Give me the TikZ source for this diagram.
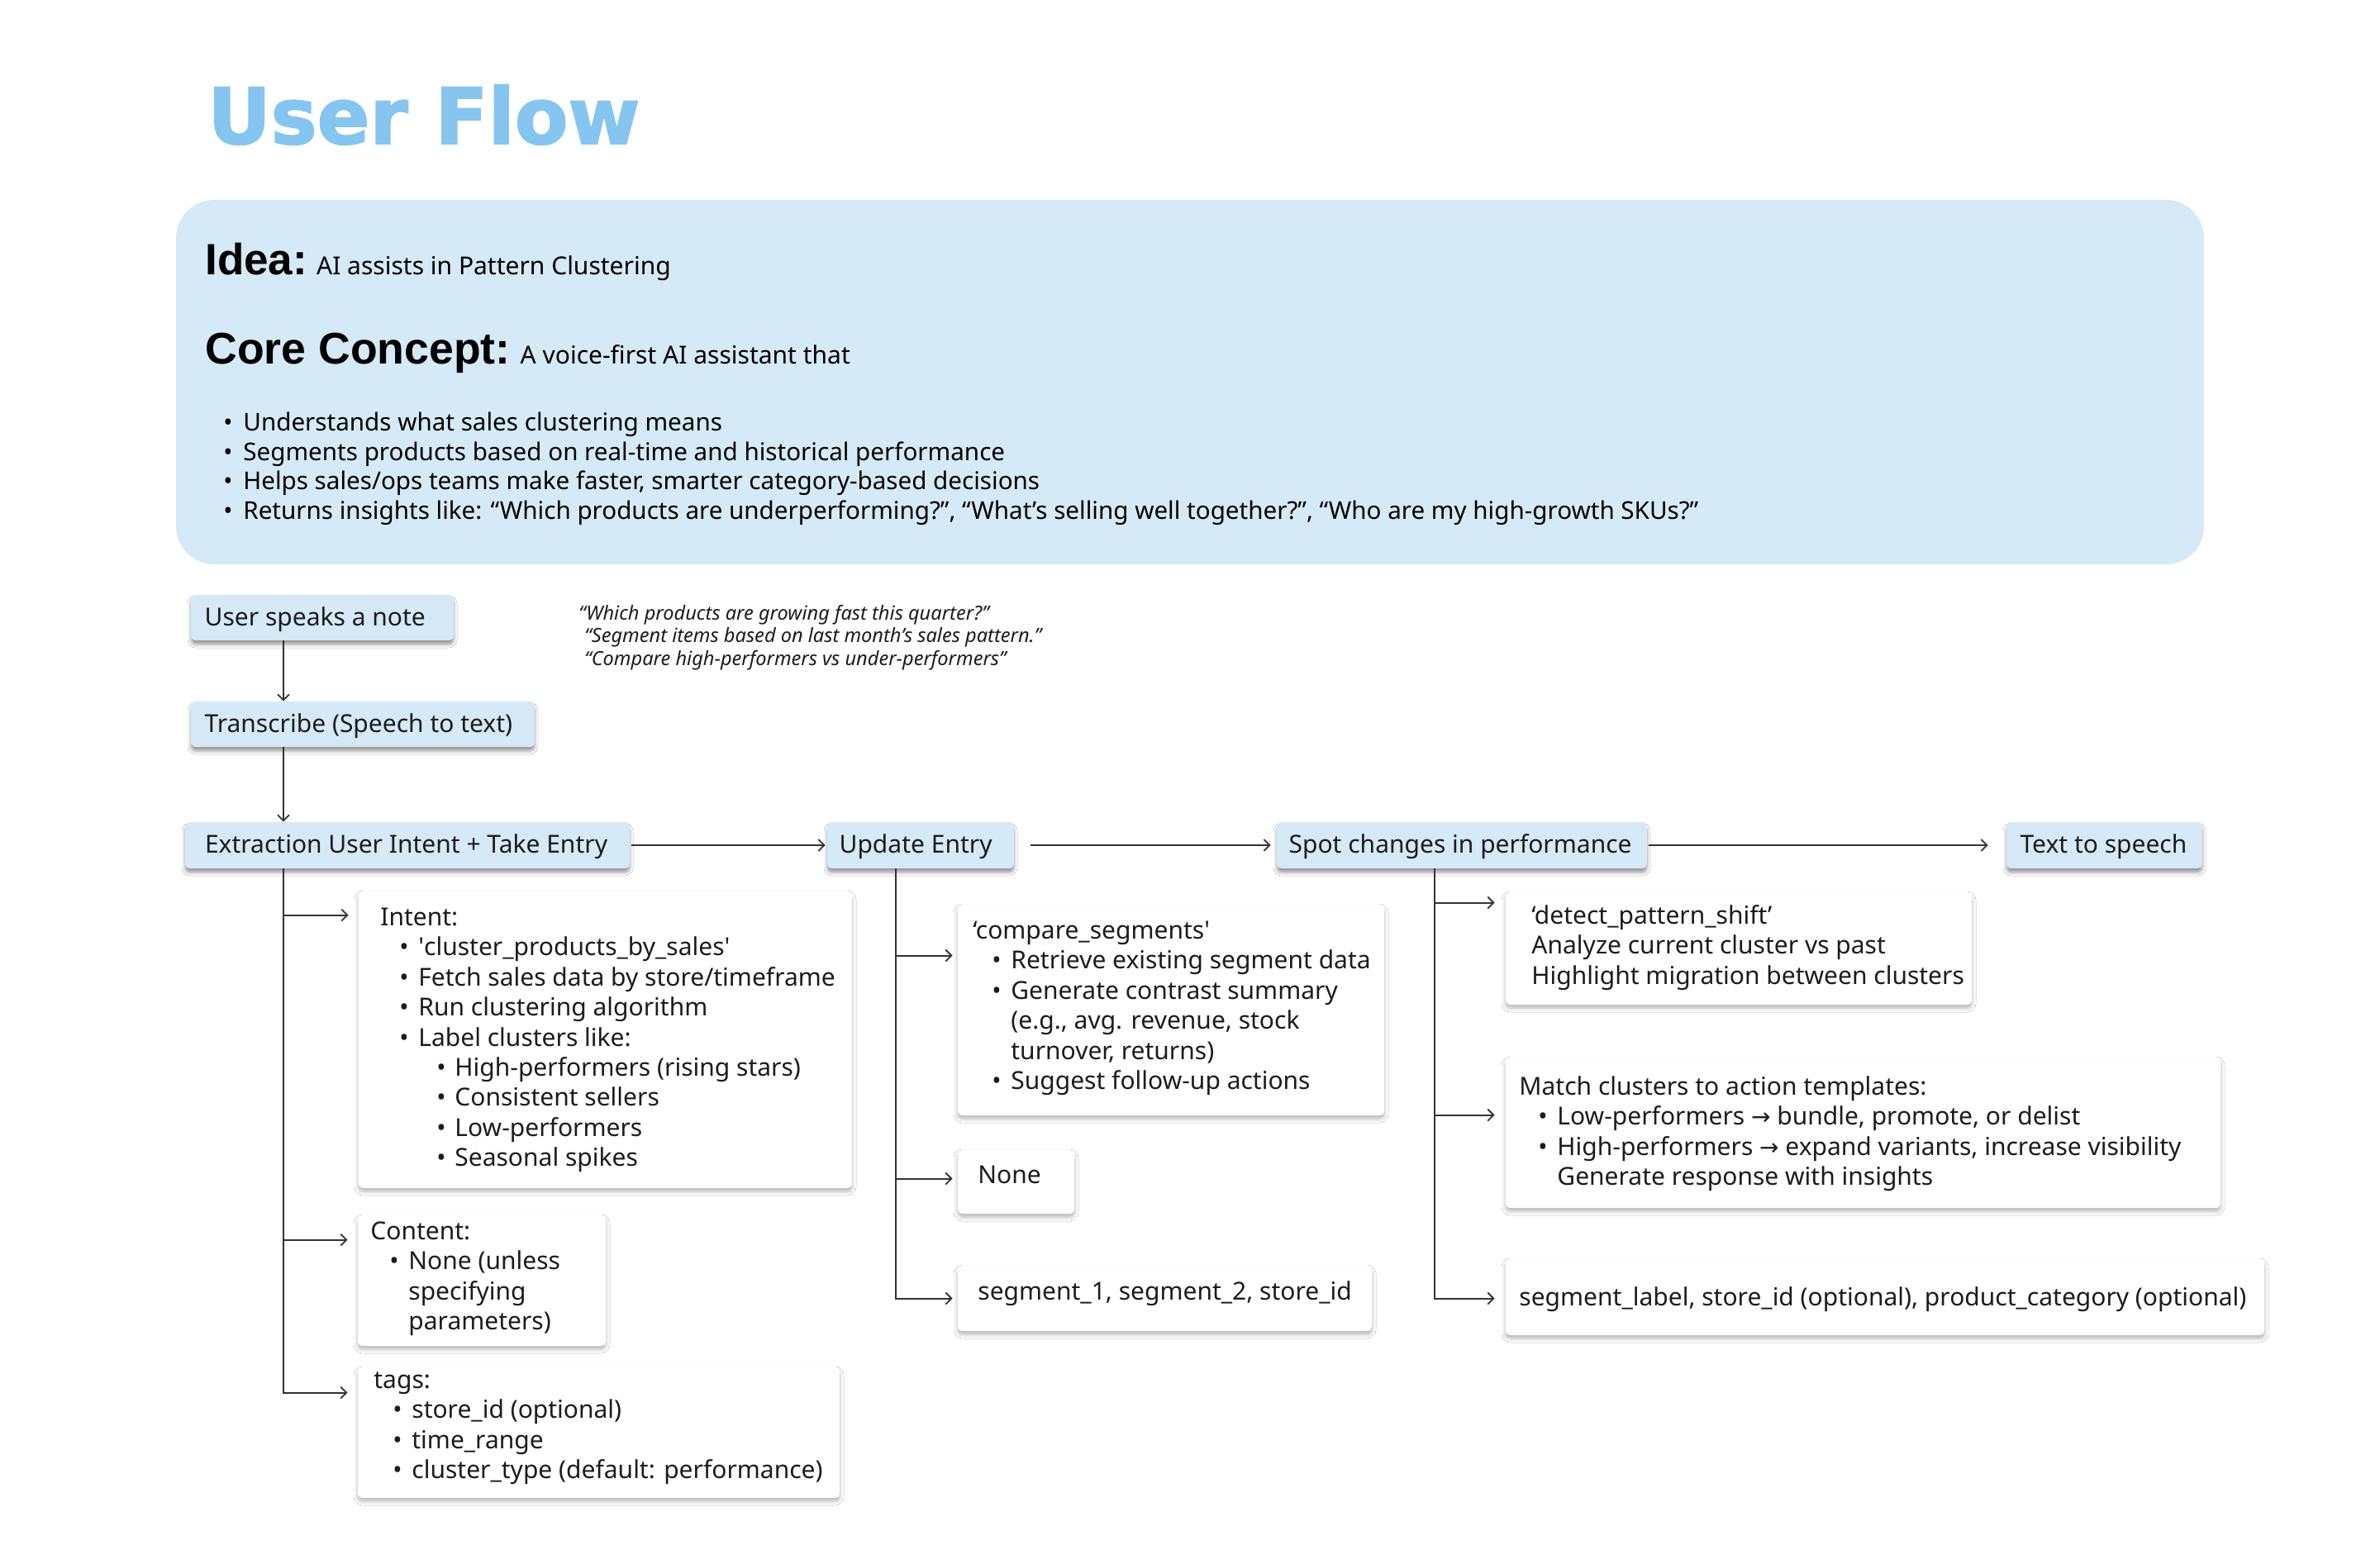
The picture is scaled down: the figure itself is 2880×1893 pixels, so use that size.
\documentclass[tikz,border=0pt]{standalone}
\usepackage{fontspec}
\setmainfont{Noto Sans}
\newfontfamily\titlefont{DejaVu Sans}[BoldFeatures={FakeBold=2}]
\newfontfamily\headfont{Liberation Sans}
\newfontfamily\symfont{DejaVu Sans}
\usetikzlibrary{arrows.meta,fit,shadows.blur}
\definecolor{titleblue}{HTML}{86C5EF}
\definecolor{panelblue}{HTML}{D5E9F7}
\definecolor{flowblue}{HTML}{D5E9F7}
\definecolor{ink}{HTML}{1C1C1C}
\definecolor{wirec}{HTML}{333333}
\newcommand\body{\fontsize{15pt}{18.2pt}\selectfont}
\newcommand\fl{\rule{0pt}{12pt}}
\newcommand\ia[1]{\hspace*{11.5pt}\makebox[11.5pt][l]{\textbullet}#1}
\newcommand\ib[1]{\hspace*{34pt}\makebox[11pt][l]{\textbullet}#1}
\newcommand\ic[1]{\hspace*{23pt}#1}
\newcommand\rarr{{\symfont\fontsize{14pt}{18pt}\selectfont →}}
\tikzset{
  flow/.style={fill=flowblue, rounded corners=3pt, inner sep=0pt, minimum height=27.5pt,
    blur shadow={shadow xshift=0pt, shadow yshift=-2.5pt, shadow blur radius=2pt, shadow opacity=40}},
  flowtxt/.style={anchor=west, inner sep=0pt, font=\body, text=ink, text height=12.5pt, text depth=3pt},
  card/.style={fill=white, rounded corners=3pt, inner sep=0pt,
    blur shadow={shadow xshift=0pt, shadow yshift=-2pt, shadow blur radius=2.5pt, shadow opacity=30}},
  panel/.style={fill=panelblue, rounded corners=23pt, inner sep=0pt},
  txt/.style={anchor=north west, inner sep=0pt, align=left, font=\body, text=ink},
  wire/.style={draw=wirec, line width=0.9pt, -{Straight Barb[length=3.5pt,width=7pt]}},
}
\begin{document}
\begin{tikzpicture}[x=0.5pt,y=-0.5pt]
\useasboundingbox[fill=white] (0,0) rectangle (2880,1893);

% title
\node[anchor=base west, inner sep=0pt, text=titleblue, font=\titlefont\bfseries\fontsize{47pt}{50pt}\selectfont] (title) at (251,174) {User Flow};

% panel
\node[panel, fit={(213,242) (2667,683)}] (panel) {};
\node[anchor=base west, inner sep=0pt, text=black] (idea) at (248,333)
  {{\headfont\bfseries\fontsize{26.5pt}{30pt}\selectfont Idea:}\hspace{5.5pt}{\fontsize{15pt}{18pt}\selectfont AI assists in Pattern Clustering}};
\node[anchor=base west, inner sep=0pt, text=black] (core) at (248,441)
  {{\headfont\bfseries\fontsize{26.8pt}{30pt}\selectfont Core Concept:}\hspace{6pt}{\fontsize{15pt}{18pt}\selectfont A voice-first AI assistant that}};
\node[txt, text=black, font=\fontsize{14.8pt}{17.9pt}\selectfont] (points) at (270,497) {\fl\makebox[12pt][l]{\textbullet}Understands what sales clustering means\\
\makebox[12pt][l]{\textbullet}Segments products based on real-time and historical performance\\
\makebox[12pt][l]{\textbullet}Helps sales/ops teams make faster, smarter category-based decisions\\
\makebox[12pt][l]{\textbullet}Returns insights like: “Which products are underperforming?”, “What’s selling well together?”, “Who are my high-growth SKUs?”};

% quotes
\node[txt, font=\itshape\fontsize{11.8pt}{13.75pt}\selectfont] (quotes) at (700,732)
  {\rule{0pt}{9pt}“Which products are growing fast this quarter?”\\
  \hspace*{3.5pt}“Segment items based on last month’s sales pattern.”\\
  \hspace*{3.5pt}“Compare high-performers vs under-performers”};

% flow nodes
\node[flow, minimum width=159pt] (speak) at (390,747.5) {};
\node[flowtxt] (speaktxt) at ([xshift=8.3pt]speak.west) {User speaks a note};
\node[flow, minimum width=208pt] (trans) at (439,876.5) {};
\node[flowtxt] (transtxt) at ([xshift=8.3pt]trans.west) {Transcribe (Speech to text)};
\node[flow, minimum width=269pt, minimum height=28pt] (extr) at (493,1023) {};
\node[flowtxt] (extrtxt) at ([xshift=12pt]extr.west) {Extraction User Intent + Take Entry};
\node[flow, minimum width=113pt, minimum height=28pt] (upd) at (1114,1023) {};
\node[flowtxt] (updtxt) at ([xshift=7.3pt]upd.west) {Update Entry};
\node[flow, minimum width=224pt, minimum height=28pt] (spot) at (1769,1023) {};
\node[flowtxt] (spottxt) at ([xshift=7.3pt]spot.west) {Spot changes in performance};
\node[flow, minimum width=118.5pt, minimum height=28pt] (tts) at (2546.5,1023) {};
\node[flowtxt] (ttstxt) at ([xshift=8.3pt]tts.west) {Text to speech};

% cards
\node[card, fit={(434,1079) (1031,1438)}] (intent) {};
\node[card, fit={(433,1471) (733,1629)}] (content) {};
\node[card, fit={(433,1655) (1016,1813)}] (tags) {};
\node[card, fit={(1159,1095) (1675,1350)}] (compare) {};
\node[card, fit={(1159,1392) (1300,1469)}] (none) {};
\node[card, fit={(1159,1532) (1660,1611)}] (seg) {};
\node[card, fit={(1822,1080) (2386,1216)}] (detect) {};
\node[card, fit={(1822,1280) (2687,1462)}] (match) {};
\node[card, fit={(1822,1524) (2740,1616)}] (seglabel) {};

% card texts
\node[txt] (intenttxt) at (460,1096) {\fl Intent:\\
\ia{\textquotesingle cluster\_products\_by\_sales\textquotesingle}\\
\ia{Fetch sales data by store/timeframe}\\
\ia{Run clustering algorithm}\\
\ia{Label clusters like:}\\
\ib{High-performers (rising stars)}\\
\ib{Consistent sellers}\\
\ib{Low-performers}\\
\ib{Seasonal spikes}};
\node[txt] (contenttxt) at (448,1476) {\fl Content:\\
\ia{None (unless}\\
\ic{specifying}\\
\ic{parameters)}};
\node[txt] (tagstxt) at (452,1656) {\fl tags:\\
\ia{store\_id (optional)}\\
\ia{time\_range}\\
\ia{cluster\_type (default: performance)}};
\node[txt] (comparetxt) at (1177,1112) {\fl ‘compare\_segments\textquotesingle\\
\ia{Retrieve existing segment data}\\
\ia{Generate contrast summary}\\
\ic{(e.g., avg. revenue, stock}\\
\ic{turnover, returns)}\\
\ia{Suggest follow-up actions}};
\node[txt] (nonetxt) at (1183,1408) {\fl None};
\node[txt] (segtxt) at (1183,1549) {\fl segment\_1, segment\_2, store\_id};
\node[txt] (detecttxt) at (1853,1094) {\fl ‘detect\_pattern\_shift’\\
Analyze current cluster vs past\\
Highlight migration between clusters};
\node[txt] (matchtxt) at (1838,1301) {\fl Match clusters to action templates:\\
\ia{Low-performers \rarr{} bundle, promote, or delist}\\
\ia{High-performers \rarr{} expand variants, increase visibility}\\
\ic{Generate response with insights}};
\node[txt] (seglabeltxt) at (1838,1556) {\fl segment\_label, store\_id (optional), product\_category (optional)};

% branch columns
\coordinate (colA) at (343,0);
\coordinate (colB) at (1084,0);
\coordinate (colC) at (1736,0);

% main flow connectors
\draw[wire] (speak.south -| colA) -- (trans.north -| colA);
\draw[wire] (trans.south -| colA) -- (extr.north -| colA);
\draw[wire] ([xshift=1pt]extr.east) -- ([xshift=-1pt]upd.west);
\draw[wire] ([xshift=10pt]upd.east) -- ([xshift=-3.5pt]spot.west);
\draw[wire] ([xshift=1pt]spot.east) -- ([xshift=-11pt]tts.west);

% branches
\draw[wire] (extr.south -| colA) |- ([xshift=-6pt,yshift=-14.5pt]intent.north west);
\draw[wire] (extr.south -| colA) |- ([xshift=-6pt,yshift=-15pt]content.north west);
\draw[wire] (extr.south -| colA) |- ([xshift=-6pt,yshift=-15.5pt]tags.north west);
\draw[wire] (upd.south -| colB) |- ([xshift=-3pt,yshift=-31pt]compare.north west);
\draw[wire] (upd.south -| colB) |- ([xshift=-3pt,yshift=-17.5pt]none.north west);
\draw[wire] (upd.south -| colB) |- ([xshift=-3pt,yshift=-20pt]seg.north west);
\draw[wire] (spot.south -| colC) |- ([xshift=-6.5pt,yshift=-6.5pt]detect.north west);
\draw[wire] (spot.south -| colC) |- ([xshift=-6.5pt,yshift=-35pt]match.north west);
\draw[wire] (spot.south -| colC) |- ([xshift=-6.5pt,yshift=-24pt]seglabel.north west);
\end{tikzpicture}
\end{document}
